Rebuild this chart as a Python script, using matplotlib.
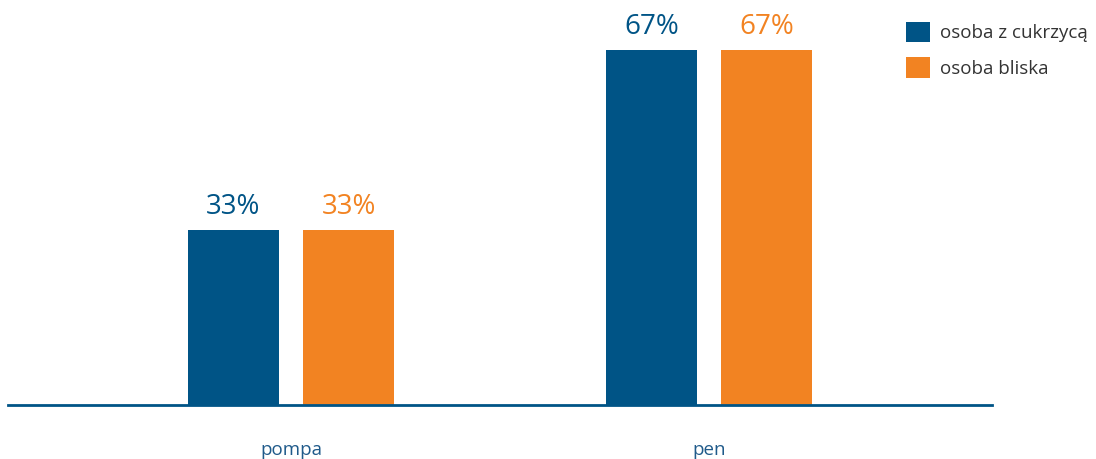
import matplotlib.pyplot as plt
import numpy as np

categories = ['pompa', 'pen']
series_names = ['osoba z cukrzycą', 'osoba bliska']
patient = [33, 67]
relative = [33, 67]

blue = '#005486'
orange = '#F28322'

plt.rcParams['font.family'] = ['Open Sans', 'DejaVu Sans']

fig = plt.figure(figsize=(10.96, 4.59), dpi=100)
ax = fig.add_axes([8 / 1096, (459 - 405) / 459, (992 - 8) / 1096, 405 / 459])

x = np.arange(len(categories))
w = 0.218
off = 0.1376

b1 = ax.bar(x - off, patient, w, color=blue, label=series_names[0])
b2 = ax.bar(x + off, relative, w, color=orange, label=series_names[1])

# value labels above each bar
for bars, vals, col in [(b1, patient, blue), (b2, relative, orange)]:
    for rect, v in zip(bars, vals):
        ax.text(rect.get_x() + rect.get_width() / 2, v + 1.7, f'{v}%',
                ha='center', va='bottom', fontsize=20, color=col)

ax.set_xlim(-0.677, 1.677)
ax.set_ylim(0, 76.4)
ax.set_xticks(x)
ax.set_xticklabels(categories, fontsize=13.5, color='#1f5a8a')
ax.tick_params(axis='x', length=0, pad=26)
ax.set_yticks([])
for s in ['top', 'right', 'left']:
    ax.spines[s].set_visible(False)
ax.spines['bottom'].set_color(blue)
ax.spines['bottom'].set_linewidth(2)

fig.legend(loc='upper left', bbox_to_anchor=(889 / 1096, 1 - 5 / 459),
           frameon=False, fontsize=13.5, labelcolor='#333333',
           handlelength=1.3, handleheight=1.3, handletextpad=0.5,
           labelspacing=0.8)

fig.savefig('out.png', dpi=100)
